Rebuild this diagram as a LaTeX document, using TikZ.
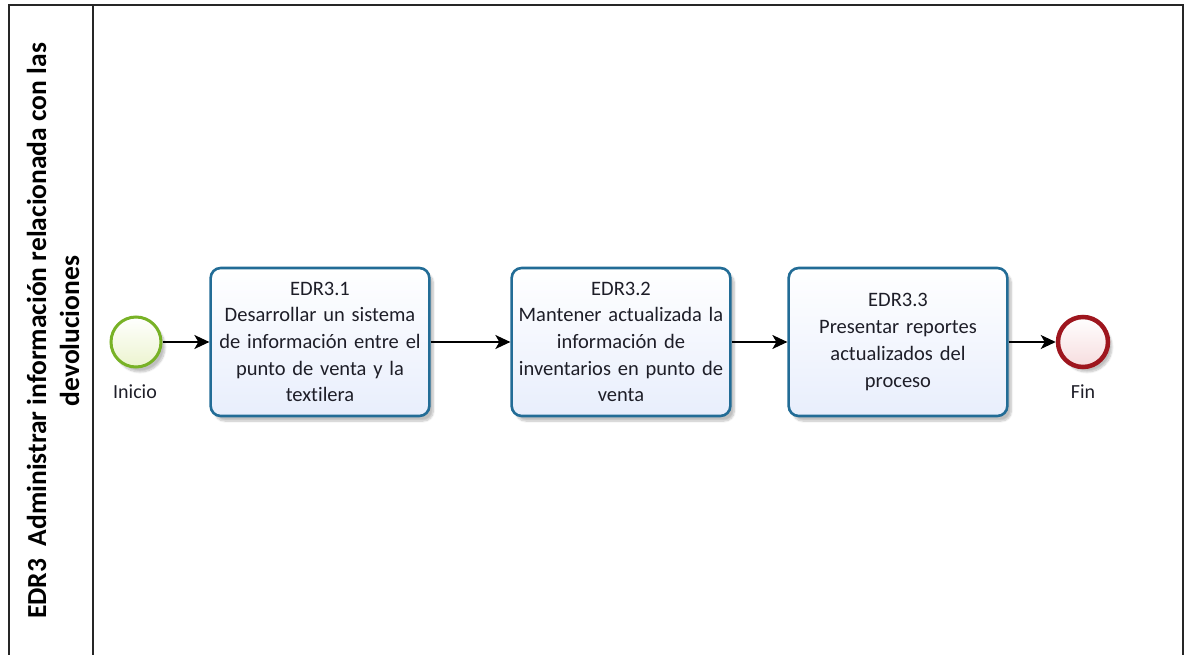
\documentclass[tikz,border=0pt]{standalone}
\usepackage{fontspec}
\setmainfont{Carlito}[Ligatures=NoCommon]
\usetikzlibrary{shadows.blur,arrows.meta}

\definecolor{taskline}{RGB}{34,108,150}
\definecolor{taskfill}{RGB}{232,238,252}
\definecolor{startline}{RGB}{120,178,38}
\definecolor{startfill}{RGB}{236,244,206}
\definecolor{endline}{RGB}{158,22,30}
\definecolor{endfill}{RGB}{246,220,222}
\definecolor{inktext}{RGB}{30,30,40}

\begin{document}
\begin{tikzpicture}[x=1pt,y=-1pt,
  softshadow/.style={blur shadow={shadow xshift=4pt,shadow yshift=-5pt,shadow blur steps=8,shadow opacity=25}},
  task/.style={draw=taskline,line width=2.6pt,rounded corners=10pt,
    minimum width=218pt,minimum height=148pt,text width=212pt,align=center,
    top color=white,bottom color=taskfill,text=inktext,
    font=\fontsize{20.5}{26.7}\selectfont,softshadow},
  startev/.style={circle,draw=startline,line width=3pt,minimum size=50pt,
    inner sep=0pt,top color=white,bottom color=startfill,softshadow},
  endev/.style={circle,draw=endline,line width=4.5pt,minimum size=50pt,
    inner sep=0pt,top color=white,bottom color=endfill,softshadow},
  evlabel/.style={font=\fontsize{20}{24}\selectfont,text=inktext},
  flow/.style={line width=1.6pt,-{Stealth[length=15pt,width=14pt,inset=4pt]}},
  lane/.style={line width=1.5pt,draw=black!85}
]
\useasboundingbox (0,0) rectangle (1187,655);

% pool frame and lane header
\draw[lane] (9,655) -- (9,5) -- (1183,5) -- (1183,655);
\draw[lane] (93,5) -- (93,655);
\node[rotate=90,align=center,font=\bfseries\fontsize{27.5}{33}\selectfont] (title) at (53,331)
  {EDR3\ \ Administrar información relacionada con las\\devoluciones};

% events and tasks
\node[startev] (start) at (136,342) {};
\node[evlabel] (startlbl) at (135,392) {Inicio};
\node[task] (t1) at (320,342) {EDR3.1\\Desarrollar un sistema\\de información entre el\\punto de venta y la\\textilera};
\node[task] (t2) at (621,342) {EDR3.2\\Mantener actualizada la\\información de\\inventarios en punto de\\venta};
\node[task] (t3) at (898,342) {EDR3.3\\Presentar reportes\\actualizados del\\proceso};
\node[endev] (finish) at (1083,342) {};
\node[evlabel] (finishlbl) at (1083,392) {Fin};

% sequence flows
\draw[flow] (start) -- (t1);
\draw[flow] (t1) -- (t2);
\draw[flow] (t2) -- (t3);
\draw[flow] (t3) -- (finish);
\end{tikzpicture}
\end{document}
